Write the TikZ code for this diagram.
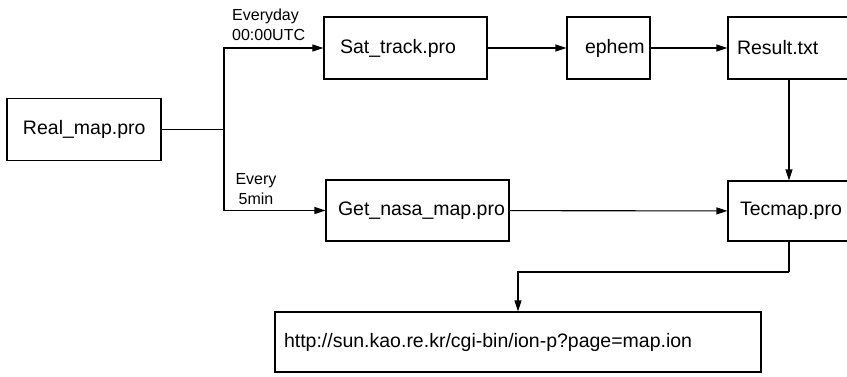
\documentclass[tikz,border=0pt]{standalone}
\usepackage{fontspec}
\setmainfont{Liberation Sans}
\usetikzlibrary{arrows.meta}
\begin{document}
\begin{tikzpicture}[x=1pt,y=-1pt,
  box/.style={draw, line width=1.1pt, rectangle, minimum height=62pt,
    inner ysep=0pt, align=left, font=\fontsize{19.5}{23}\selectfont},
  lbl/.style={font=\fontsize{16}{20}\selectfont, inner sep=0pt},
  wire/.style={line width=1.1pt},
  flow/.style={wire, -{Triangle[length=11pt,width=7pt]}}]
\useasboundingbox (0,0) rectangle (847,376);

% program and data boxes
\node[box, inner xsep=16pt, text width=122pt] (real)   at (84,129.5)  {Real\_map.pro};
\node[box, inner xsep=16pt, text width=131pt] (sat)    at (405.5,48)  {Sat\_track.pro};
\node[box, inner xsep=18pt, text width=47pt]  (ephem)  at (608.5,48)  {ephem};
\node[box, inner xsep=9pt,  text width=104pt] (result) at (789,48)    {Result.txt};
\node[box, inner xsep=12pt, text width=159pt, minimum height=61pt] (nasa) at (417.5,210.5) {Get\_nasa\_map.pro};
\node[box, inner xsep=12pt, text width=98pt,  minimum height=60pt] (tec)  at (789,211) {Tecmap.pro};
\node[box, inner xsep=9pt,  text width=468pt, minimum height=60pt] (url)  at (518,342)
  {http://sun.kao.re.kr/cgi-bin/ion-p?page=map.ion};

% branch point of the scheduler
\coordinate (fork) at (224,129.5);
\coordinate (drop) at (789,272);

\draw[wire] (real) -- (fork);
\draw[flow] (fork) |- (sat);
\draw[flow] (fork) |- (nasa);
\draw[flow] (sat) -- (ephem);
\draw[flow] (ephem) -- (result);
\draw[flow] (result) -- (tec);
\draw[flow] (nasa) -- (tec);
\draw[wire] (tec) -- (drop);
\draw[flow] (drop) -| (url);

% schedule labels
\node[lbl, anchor=west, align=left] (daily) at (232,25) {Everyday\\00:00UTC};
\node[lbl, align=center] (often) at (256,189) {Every\\5min};
\end{tikzpicture}
\end{document}
